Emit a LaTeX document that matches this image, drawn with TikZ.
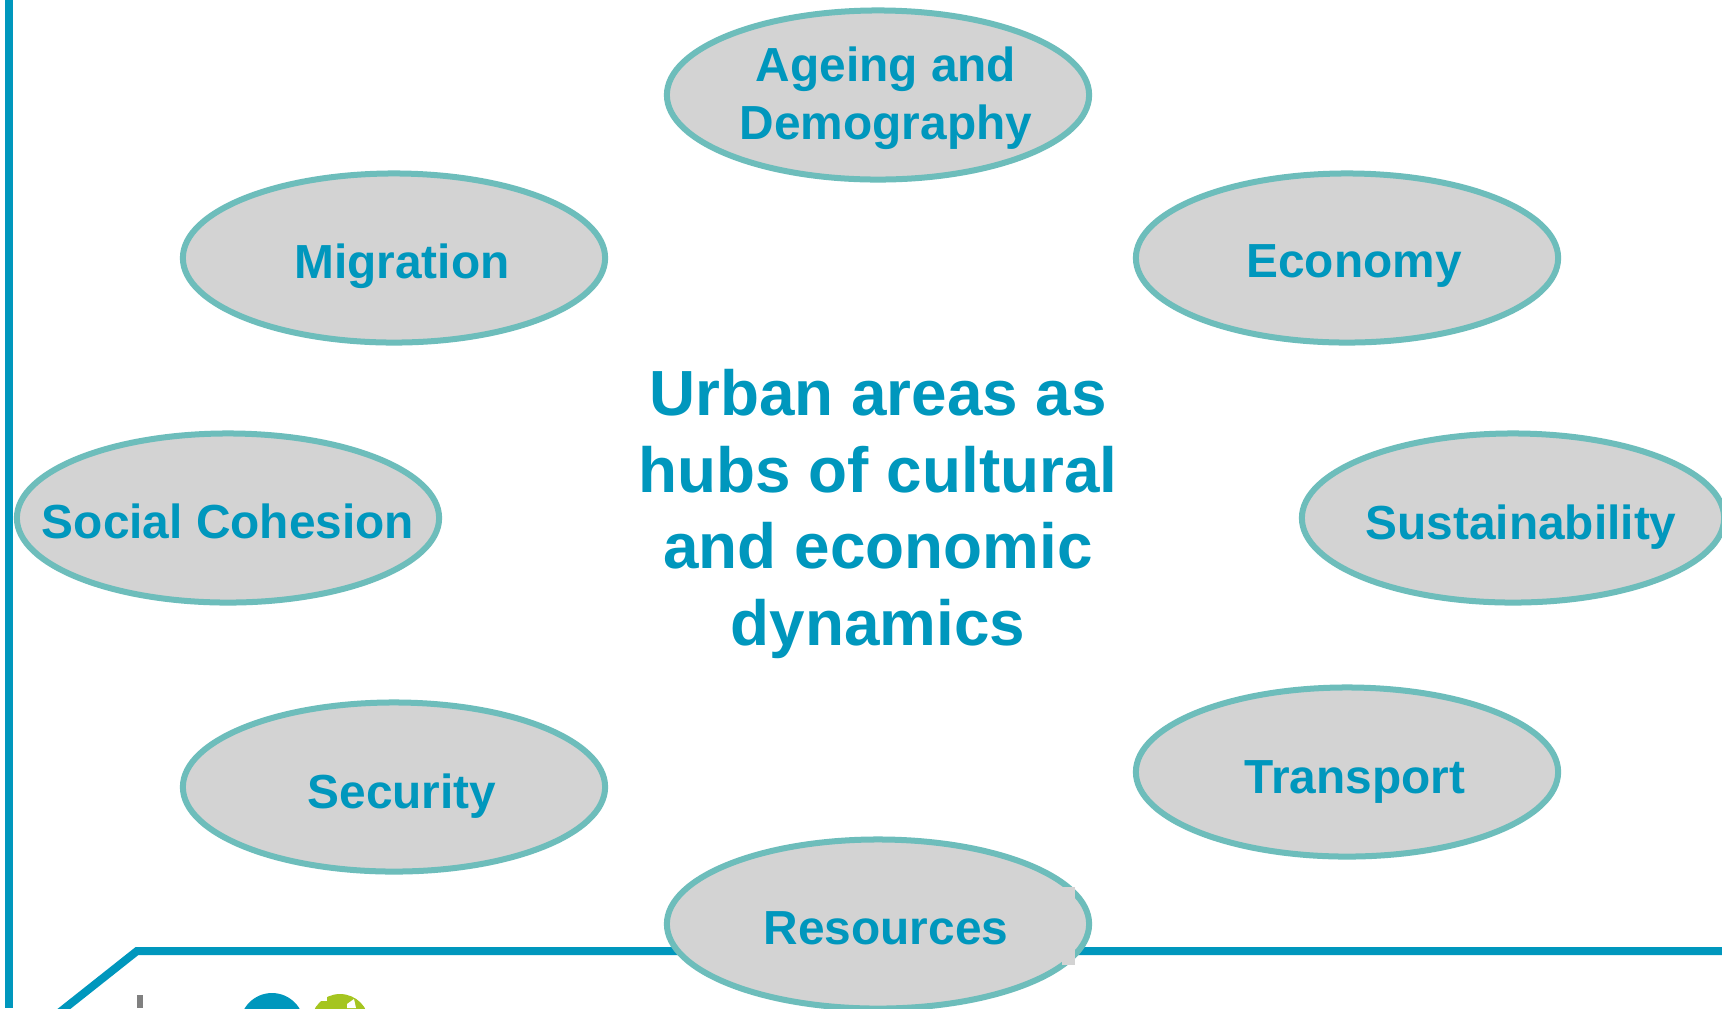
\documentclass[tikz,border=0pt]{standalone}
\usepackage{fontspec}
\setmainfont{Liberation Sans}
\usetikzlibrary{shapes.geometric}
\definecolor{hubblue}{HTML}{0097BD}
\definecolor{rimteal}{HTML}{6DBDBB}
\definecolor{topicgrey}{HTML}{D3D3D3}
\definecolor{logogreen}{HTML}{A5C520}
\definecolor{logogrey}{HTML}{808080}
\tikzset{
    topic/.style={ellipse,draw=rimteal,fill=topicgrey,line width=0.06cm,minimum width=4.22cm,minimum height=1.69cm,inner sep=0pt},
    topictext/.style={text=hubblue,font=\fontsize{13.6}{16.6}\selectfont\bfseries,align=center,inner sep=0pt},
    frameline/.style={draw=hubblue,line width=0.08cm}
}
\begin{document}
\begin{tikzpicture}[x=0.01cm,y=-0.01cm]
    \useasboundingbox[fill=white] (0,0) rectangle (1722,1008);
    \begin{scope}
        \clip (0,0) rectangle (1722,1008);

        \draw[frameline] (9,0) -- (9,1008);
        \draw[frameline,line join=miter] (55,1016) -- (137,951) -- (1722,951);

        % bits of the logo cut off by the page
        \fill[logogrey] (137,995) rectangle (143,1008);
        \fill[hubblue] (272,1025) circle (32);
        \fill[logogreen] (340,1023) circle (29);
        \fill[white] (310,990) rectangle (327,1001);
        \fill[white] (347,1004) -- (354,999) -- (356,1008) -- (347,1008) -- cycle;

        \node[topic] (ageing) at (878,95) {};
        \node[topic] (migration) at (394,258) {};
        \node[topic] (economy) at (1347,258) {};
        \node[topic] (cohesion) at (228,518) {};
        \node[topic] (sustain) at (1513,518) {};
        \node[topic] (security) at (394,787) {};
        \node[topic] (transport) at (1347,772) {};
        \node[topic] (resources) at (878,924) {};

        \fill[topicgrey] (1062,887) rectangle (1075,965);

        \node[topictext] (ageingtext) at (886,98) {Ageing and\\Demography};
        \node[topictext] (migrationtext) at (402,266) {Migration};
        \node[topictext] (economytext) at (1354,266) {Economy};
        \node[topictext] (cohesiontext) at (228,521) {Social Cohesion};
        \node[topictext] (sustaintext) at (1521,527) {Sustainability};
        \node[topictext] (securitytext) at (402,796) {Security};
        \node[topictext] (transporttext) at (1355,782) {Transport};
        \node[topictext] (resourcestext) at (886,928) {Resources};

        \node[text=hubblue,font=\fontsize{18.15}{21.85}\selectfont\bfseries,align=center,inner sep=0pt] (hub) at (878,514)
            {Urban areas as\\hubs of cultural\\and economic\\dynamics};
    \end{scope}
\end{tikzpicture}
\end{document}
